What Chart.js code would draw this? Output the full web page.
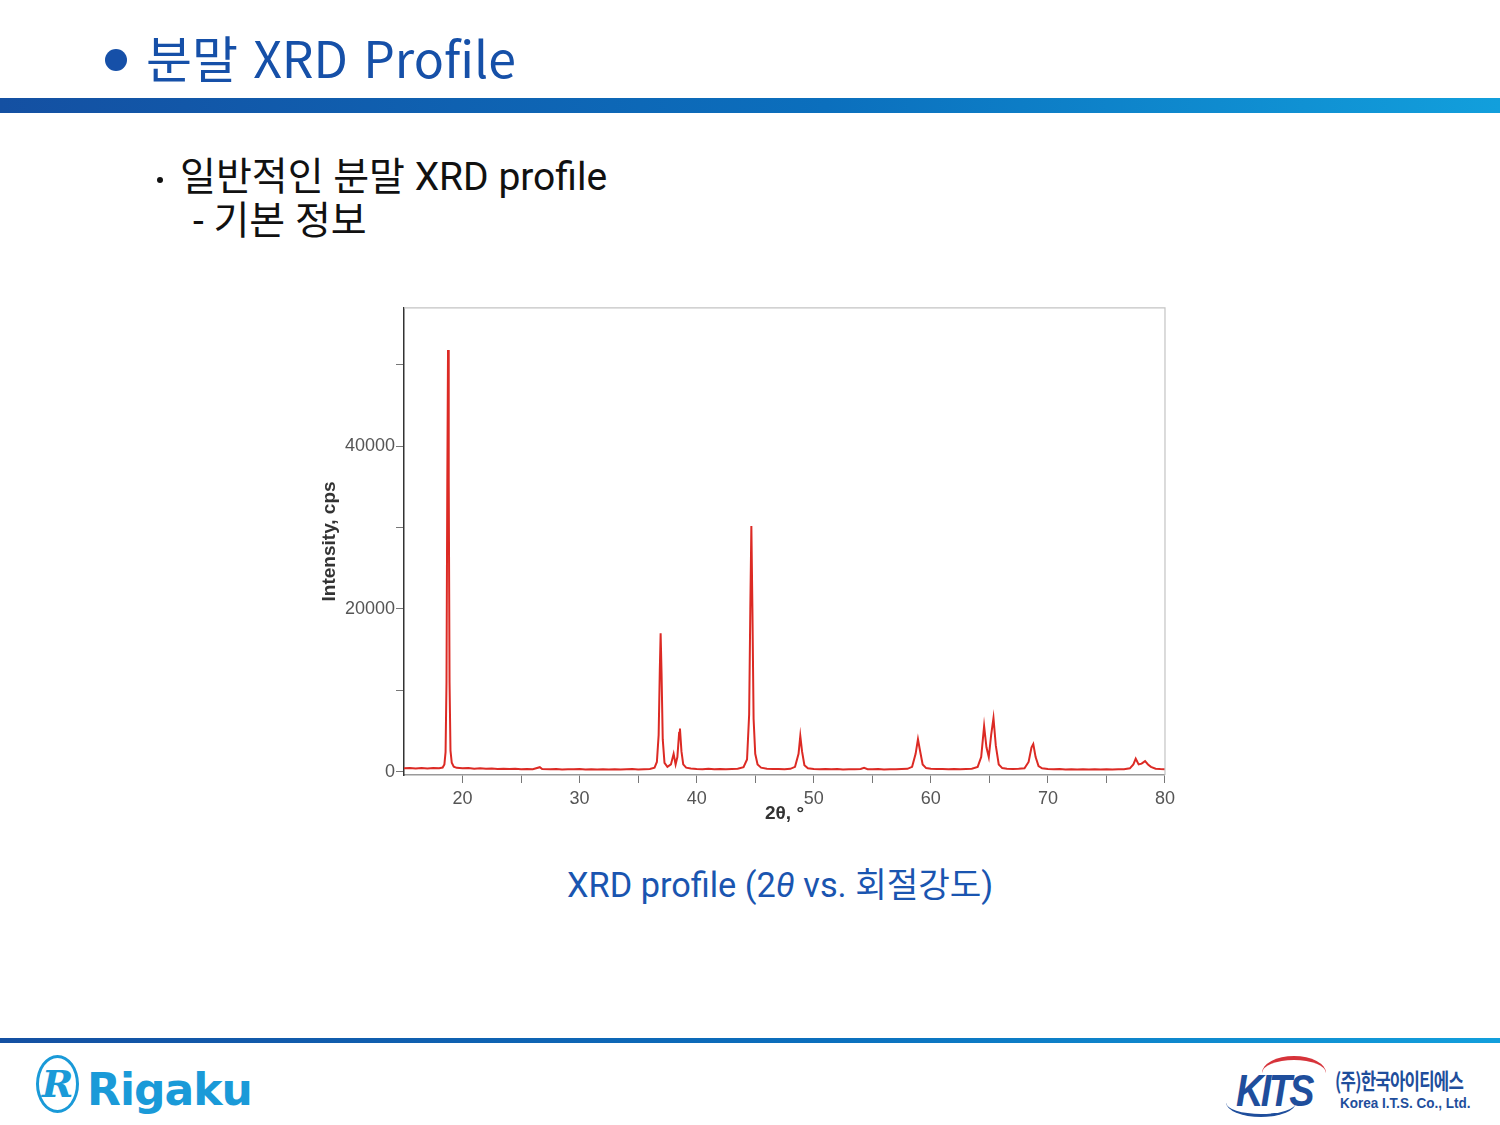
<!DOCTYPE html>
<html>
<head>
<meta charset="utf-8">
<script src="https://cdn.jsdelivr.net/npm/chart.js@4/dist/chart.umd.min.js"></script>
<style>
  body { margin: 0; background: #fff; }
  #page { position: relative; width: 1500px; height: 1125px; overflow: hidden; font-family: Roboto, "Noto Sans CJK KR", sans-serif; }
  .abs { position: absolute; white-space: nowrap; line-height: 1; }
  #title { left: 146px; top: 31px; font-size: 50px; color: #1650a8; font-family: "Noto Sans CJK KR", sans-serif; word-spacing: 4px; }
  #dot { left: 105px; top: 49px; width: 22px; height: 22px; border-radius: 50%; background: #1650a8; }
  #topbar { left: 0; top: 98px; width: 1500px; height: 15px; background: linear-gradient(to right, #1450a2, #0b6fbd 55%, #129fdc); }
  #sub1 { left: 180px; top: 158px; font-size: 39px; color: #111; }
  #subdot { left: 157px; top: 177px; width: 6px; height: 6px; border-radius: 50%; background: #111; }
  #sub2 { left: 193px; top: 202px; font-size: 39px; color: #111; }
  #chartbox { left: 300px; top: 296px; width: 880px; height: 550px; }
  #caption { left: 567px; top: 868px; font-size: 34.3px; color: #1a55b0; }
  #botbar { left: 0; top: 1038px; width: 1500px; height: 5px; background: linear-gradient(to right, #1450a2, #0b6fbd 55%, #129fdc); }
  #rlogo { left: 36px; top: 1055px; width: 37px; height: 52px; border: 3px solid #1a9ad8; border-radius: 50%; color: #1a9ad8; font: italic bold 38px "DejaVu Serif", serif; text-align: center; line-height: 52px; }
  #rtext { left: 87px; top: 1064px; font: bold 44px "DejaVu Sans", sans-serif; color: #1a9ad8; letter-spacing: -1px; }
  #kits { left: 1236px; top: 1066px; font: italic bold 44px "Liberation Sans", sans-serif; color: #1f4e9c; letter-spacing: -3px; transform: scaleX(0.86); transform-origin: left top; }
  #arcR { left: 1262px; top: 1056px; width: 64px; height: 30px; border-top: 4px solid #d6333a; border-radius: 50% 50% 0 0; }
  #arcB { left: 1226px; top: 1088px; width: 70px; height: 26px; border-bottom: 3px solid #1f4e9c; border-radius: 0 0 50% 50%; }
  #kr { left: 1335px; top: 1063px; font: bold 22px "Noto Sans CJK KR", sans-serif; color: #1f4e9c; letter-spacing: -1px; transform: scaleX(0.76); transform-origin: left top; }
  #en { left: 1340px; top: 1094px; font: bold 15px "Liberation Sans", sans-serif; color: #1f4e9c; transform: scaleX(0.9); transform-origin: left top; }
</style>
</head>
<body>
<div id="page">
  <div id="dot" class="abs"></div>
  <div id="title" class="abs">분말 XRD Profile</div>
  <div id="topbar" class="abs"></div>
  <div id="subdot" class="abs"></div>
  <div id="sub1" class="abs">일반적인 분말 XRD profile</div>
  <div id="sub2" class="abs">- 기본 정보</div>
  <div id="chartbox" class="abs"><canvas id="xrd-chart"></canvas></div>
  <div id="caption" class="abs">XRD profile (2<i>θ</i> vs. 회절강도)</div>
  <div id="botbar" class="abs"></div>
  <div id="rlogo" class="abs">R</div>
  <div id="rtext" class="abs">Rigaku</div>
  <div id="arcR" class="abs"></div>
  <div id="arcB" class="abs"></div>
  <div id="kits" class="abs">KITS</div>
  <div id="kr" class="abs">(주)한국아이티에스</div>
  <div id="en" class="abs">Korea I.T.S. Co., Ltd.</div>
</div>
<script>
// 2θ positions (deg)
const twoTheta = [
  15.0, 15.5, 16.0, 16.5, 17.0, 17.5, 18.0, 18.3, 18.45, 18.55, 18.63, 18.7, 18.76, 18.82, 18.89, 18.97, 19.08, 19.25,
  19.5, 20.0, 20.5, 21.0, 21.5, 22.0, 22.5, 23.0, 23.5, 24.0, 24.5, 25.0, 25.5, 26.0, 26.6, 26.8,
  27.5, 28.0, 28.5, 29.0, 29.5, 30.0, 30.5, 31.0, 31.5, 32.0, 32.5, 33.0, 33.5, 34.0, 34.5, 35.0, 35.5, 36.0, 36.4,
  36.6, 36.75, 36.85, 36.92, 37.0, 37.1, 37.25, 37.5, 37.8, 38.03, 38.2, 38.35, 38.5, 38.57, 38.7, 38.85, 39.1,
  39.5, 40.0, 40.5, 41.0, 41.5, 42.0, 42.5, 43.0, 43.5, 44.0, 44.3, 44.48, 44.58, 44.67, 44.76, 44.86, 45.0, 45.2, 45.5,
  46.0, 46.5, 47.0, 47.5, 48.0, 48.4, 48.7, 48.85, 49.0, 49.2, 49.5,
  50.0, 50.5, 51.0, 51.5, 52.0, 52.5, 53.0, 53.5, 54.0, 54.3, 54.6, 55.0, 55.5, 56.0, 56.5, 57.0, 57.5, 58.0,
  58.4, 58.7, 58.9, 59.05, 59.3, 59.6, 60.0, 60.5, 61.0, 61.5, 62.0, 62.5, 63.0, 63.5, 64.0,
  64.3, 64.55, 64.75, 64.95, 65.15, 65.35, 65.55, 65.8, 66.1, 66.5, 67.0, 67.5, 68.0,
  68.35, 68.6, 68.75, 68.95, 69.2, 69.5, 70.0, 70.5, 71.0, 71.5, 72.0, 72.5, 73.0, 73.5, 74.0, 74.5, 75.0,
  75.5, 76.0, 76.5, 77.0, 77.3, 77.5, 77.75, 78.0, 78.3, 78.55, 78.8, 79.2, 79.6, 80.0
];
// intensity (cps)
const intensity = [
  420, 460, 390, 450, 410, 470, 430, 520, 900, 2400, 11000, 36000, 51800, 36000, 11000, 2600, 1100, 620,
  480, 430, 460, 380, 420, 360, 400, 350, 380, 330, 360, 320, 350, 310, 560, 340,
  300, 330, 290, 320, 300, 330, 290, 310, 280, 310, 290, 320, 280, 300, 330, 290, 320, 350, 500,
  1200, 4500, 12500, 17000, 12000, 4000, 1100, 600, 900, 2200, 900, 1800, 4800, 5300, 2500, 900, 500,
  400, 350, 320, 360, 310, 340, 300, 330, 370, 550, 1500, 7000, 20000, 30200, 20000, 6500, 2200, 900, 500,
  380, 330, 350, 310, 360, 600, 2200, 4400, 2500, 800, 420,
  350, 320, 340, 300, 330, 290, 320, 300, 330, 480, 320, 300, 330, 290, 320, 300, 340, 360,
  600, 2200, 4000, 2800, 900, 450, 360, 330, 350, 310, 340, 320, 350, 380, 600,
  1800, 5600, 3000, 1800, 4500, 6600, 3200, 900, 450, 360, 340, 360, 420,
  1200, 3000, 3400, 1800, 700, 420, 340, 310, 330, 290, 320, 280, 310, 290, 300, 280, 310,
  290, 300, 320, 420, 900, 1600, 900, 1000, 1300, 900, 600, 380, 330, 300
];
const xRange = [15, 80];
const yRange = [-400, 57000];
const xTicks = [20, 25, 30, 35, 40, 45, 50, 55, 60, 65, 70, 75, 80];
const xTickLabels = ['20', '', '30', '', '40', '', '50', '', '60', '', '70', '', '80'];
const yTicks = [0, 10000, 20000, 30000, 40000, 50000];
const yTickLabels = ['0', '', '20000', '', '40000', ''];

const frame = {
  id: 'frame',
  afterDraw(chart) {
    const { ctx, chartArea: a } = chart;
    ctx.save();
    ctx.strokeStyle = '#c4c4c4';
    ctx.lineWidth = 1.2;
    ctx.beginPath();
    ctx.moveTo(a.left, a.top);
    ctx.lineTo(a.right, a.top);
    ctx.lineTo(a.right, a.bottom);
    ctx.stroke();
    ctx.restore();
  }
};

const tickFont = { family: '"Liberation Sans", Arial, sans-serif', size: 18 };
const titleFont = { family: '"Liberation Sans", Arial, sans-serif', size: 19, weight: 'bold' };

new Chart(document.getElementById('xrd-chart'), {
  type: 'line',
  data: {
    datasets: [{
      data: twoTheta.map((t, i) => ({ x: t, y: intensity[i] })),
      borderColor: '#dc2a24',
      borderWidth: 2,
      pointRadius: 0,
      tension: 0,
      fill: false,
    }],
  },
  options: {
    responsive: true,
    maintainAspectRatio: false,
    animation: false,
    layout: { padding: { left: 0, top: 10, right: 14, bottom: 0 } },
    plugins: { legend: { display: false }, tooltip: { enabled: false } },
    scales: {
      x: {
        type: 'linear',
        min: xRange[0],
        max: xRange[1],
        afterBuildTicks: s => { s.ticks = xTicks.map(v => ({ value: v })); },
        afterFit: s => { s.height = 71; },
        border: { color: '#9a9a9a', width: 1.5 },
        grid: { drawOnChartArea: false, drawTicks: true, tickLength: 8, color: '#777' },
        ticks: {
          maxRotation: 0,
          autoSkip: false,
          padding: 5,
          color: '#555',
          font: tickFont,
          callback: (v, i) => xTickLabels[i],
        },
        title: { display: true, text: '2θ, °', color: '#333', font: titleFont, padding: { top: 0, bottom: 21 } },
      },
      y: {
        min: yRange[0],
        max: yRange[1],
        afterBuildTicks: s => { s.ticks = yTicks.map(v => ({ value: v })); },
        afterFit: s => { s.width = 104; },
        border: { color: '#333', width: 1.5 },
        grid: { drawOnChartArea: false, drawTicks: true, tickLength: 8, color: '#777' },
        ticks: {
          autoSkip: false,
          padding: 1,
          color: '#555',
          font: tickFont,
          callback: (v, i) => yTickLabels[i],
        },
        title: { display: true, text: 'Intensity, cps', color: '#333', font: titleFont, padding: { top: 18, bottom: 0 } },
      },
    },
  },
  plugins: [frame],
});
</script>
</body>
</html>
